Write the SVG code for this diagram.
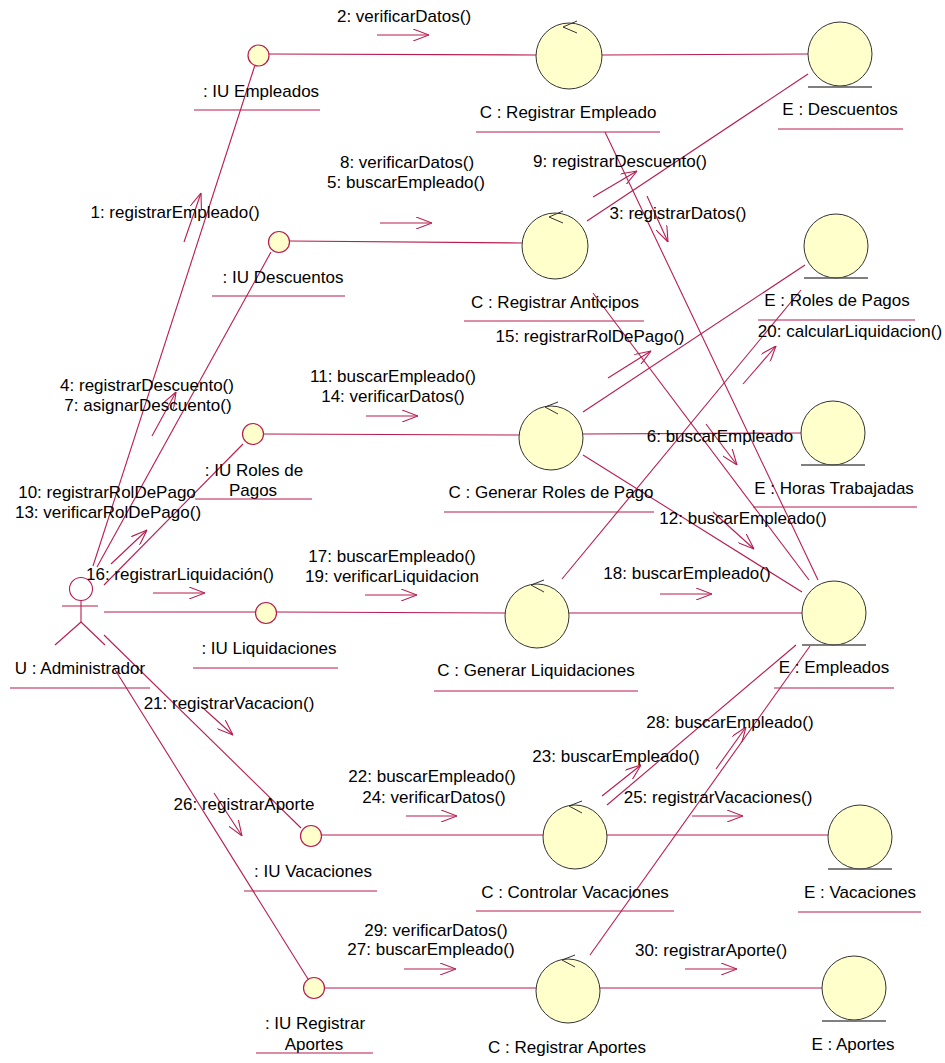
<svg xmlns="http://www.w3.org/2000/svg" width="945" height="1063" viewBox="0 0 945 1063">
  <defs>
    <style>
      text { font-family: "Liberation Sans", Arial, sans-serif; font-size: 17px; fill: #000; text-anchor: middle; }
      .ln { stroke: #B81C4E; stroke-width: 1.1; fill: none; }
      .ul { stroke: #B81C4E; stroke-width: 1.2; }
      .msg { stroke: #B81C4E; stroke-width: 1.1; fill: none; marker-end: url(#open); }
      .ui { fill: #FFFFCC; stroke: #B81C4E; stroke-width: 1.2; }
      .ctl { fill: #FFFFCC; stroke: #333; stroke-width: 1; }
      .ent { fill: #FFFFCC; stroke: #333; stroke-width: 1; }
      .bar { stroke: #555; stroke-width: 1.4; }
      .tip { stroke: #333; stroke-width: 1; fill: none; }
      .actor { stroke: #B81C4E; stroke-width: 1.1; fill: none; }
    </style>
    <marker id="open" viewBox="0 0 16 12" refX="16" refY="6" markerWidth="16" markerHeight="12" markerUnits="userSpaceOnUse" orient="auto">
      <path d="M0,0 L16,6 L0,12" fill="none" stroke="#B81C4E" stroke-width="1.1"/>
    </marker>
  </defs>
  <rect width="945" height="1063" fill="#fff"/>

  <!-- links between objects -->
  <g id="connectors">
    <!-- actor links -->
    <line class="ln" x1="93" y1="566" x2="255" y2="65"/>
    <line class="ln" x1="97" y1="567" x2="271" y2="252"/>
    <line class="ln" x1="104" y1="585" x2="243" y2="444"/>
    <line class="ln" x1="104" y1="612" x2="255" y2="612"/>
    <line class="ln" x1="104" y1="635" x2="301" y2="828"/>
    <line class="ln" x1="114" y1="668" x2="308" y2="979"/>
    <!-- boundary to control -->
    <line class="ln" x1="269" y1="54" x2="536" y2="55"/>
    <line class="ln" x1="290" y1="241" x2="522" y2="243"/>
    <line class="ln" x1="264" y1="434" x2="519" y2="435"/>
    <line class="ln" x1="277" y1="612" x2="505" y2="613"/>
    <line class="ln" x1="322" y1="835" x2="543" y2="835"/>
    <line class="ln" x1="325" y1="988" x2="536" y2="988"/>
    <!-- control to entity -->
    <line class="ln" x1="602" y1="55" x2="808" y2="54"/>
    <line class="ln" x1="587" y1="221" x2="808" y2="74"/>
    <line class="ln" x1="605" y1="132" x2="818" y2="580"/>
    <line class="ln" x1="593" y1="293" x2="809" y2="580"/>
    <line class="ln" x1="583" y1="412" x2="805" y2="265"/>
    <line class="ln" x1="583" y1="434" x2="801" y2="433"/>
    <line class="ln" x1="583" y1="455" x2="802" y2="592"/>
    <line class="ln" x1="562" y1="579" x2="801" y2="290"/>
    <line class="ln" x1="569" y1="613" x2="802" y2="613"/>
    <line class="ln" x1="607" y1="805" x2="796" y2="645"/>
    <line class="ln" x1="590" y1="955" x2="810" y2="646"/>
    <line class="ln" x1="607" y1="835" x2="828" y2="835"/>
    <line class="ln" x1="600" y1="988" x2="822" y2="988"/>
  </g>

  <!-- message arrows -->
  <g id="messages">
    <line class="msg" x1="377" y1="35" x2="429" y2="35"/>
    <line class="msg" x1="184" y1="242" x2="201" y2="193"/>
    <line class="msg" x1="380" y1="223" x2="432" y2="223"/>
    <line class="msg" x1="593" y1="197" x2="637" y2="171"/>
    <line class="msg" x1="647" y1="196" x2="668" y2="242"/>
    <line class="msg" x1="152" y1="436" x2="176" y2="392"/>
    <line class="msg" x1="111" y1="564" x2="147" y2="530"/>
    <line class="msg" x1="366" y1="416" x2="418" y2="416"/>
    <line class="msg" x1="608" y1="378" x2="651" y2="351"/>
    <line class="msg" x1="706" y1="424" x2="737" y2="465"/>
    <line class="msg" x1="743" y1="384" x2="776" y2="346"/>
    <line class="msg" x1="713" y1="512" x2="754" y2="549"/>
    <line class="msg" x1="153" y1="593" x2="205" y2="593"/>
    <line class="msg" x1="365" y1="595" x2="417" y2="595"/>
    <line class="msg" x1="660" y1="594" x2="712" y2="594"/>
    <line class="msg" x1="203" y1="708" x2="233" y2="735"/>
    <line class="msg" x1="214" y1="793" x2="242" y2="836"/>
    <line class="msg" x1="406" y1="816" x2="457" y2="816"/>
    <line class="msg" x1="602" y1="796" x2="641" y2="765"/>
    <line class="msg" x1="716" y1="769" x2="746" y2="727"/>
    <line class="msg" x1="692" y1="816" x2="743" y2="816"/>
    <line class="msg" x1="404" y1="969" x2="456" y2="969"/>
    <line class="msg" x1="685" y1="969" x2="737" y2="969"/>
  </g>

  <!-- message labels -->
  <g id="message-labels">
    <text x="404" y="22">2: verificarDatos()</text>
    <text x="175" y="218">1: registrarEmpleado()</text>
    <text x="407" y="168">8: verificarDatos()</text>
    <text x="406" y="188">5: buscarEmpleado()</text>
    <text x="620" y="167">9: registrarDescuento()</text>
    <text x="678" y="219">3: registrarDatos()</text>
    <text x="147" y="391">4: registrarDescuento()</text>
    <text x="148" y="411">7: asignarDescuento()</text>
    <text x="393" y="382">11: buscarEmpleado()</text>
    <text x="393" y="402">14: verificarDatos()</text>
    <text x="590" y="342">15: registrarRolDePago()</text>
    <text x="850" y="337">20: calcularLiquidacion()</text>
    <text x="720" y="442">6: buscarEmpleado</text>
    <text x="107" y="498">10: registrarRolDePago</text>
    <text x="108" y="518">13: verificarRolDePago()</text>
    <text x="743" y="524">12: buscarEmpleado()</text>
    <text x="392" y="562">17: buscarEmpleado()</text>
    <text x="392" y="582">19: verificarLiquidacion</text>
    <text x="180" y="580">16: registrarLiquidación()</text>
    <text x="687" y="579">18: buscarEmpleado()</text>
    <text x="229" y="709">21: registrarVacacion()</text>
    <text x="730" y="728">28: buscarEmpleado()</text>
    <text x="616" y="762">23: buscarEmpleado()</text>
    <text x="432" y="782">22: buscarEmpleado()</text>
    <text x="434" y="803">24: verificarDatos()</text>
    <text x="718" y="803">25: registrarVacaciones()</text>
    <text x="244" y="810">26: registrarAporte</text>
    <text x="436" y="936">29: verificarDatos()</text>
    <text x="431" y="955">27: buscarEmpleado()</text>
    <text x="711" y="956">30: registrarAporte()</text>
  </g>

  <!-- actor -->
  <g id="u-administrador">
    <circle class="actor" cx="81" cy="589" r="11.5"/>
    <line class="actor" x1="81" y1="600.5" x2="81" y2="622"/>
    <line class="actor" x1="62" y1="606" x2="98" y2="606"/>
    <line class="actor" x1="81" y1="622" x2="55" y2="645"/>
    <line class="actor" x1="81" y1="622" x2="105" y2="645"/>
    <text x="80" y="674">U : Administrador</text>
    <line class="ul" x1="10" y1="688" x2="150" y2="688"/>
  </g>

  <!-- boundary objects -->
  <g id="iu-empleados">
    <circle class="ui" cx="258.5" cy="55.5" r="10.5"/>
    <text x="261" y="97">: IU Empleados</text>
    <line class="ul" x1="194" y1="110" x2="320" y2="110"/>
  </g>
  <g id="iu-descuentos">
    <circle class="ui" cx="279" cy="242" r="10.5"/>
    <text x="283" y="283">: IU Descuentos</text>
    <line class="ul" x1="212" y1="296" x2="345" y2="296"/>
  </g>
  <g id="iu-roles-de-pagos">
    <circle class="ui" cx="253" cy="434" r="10.5"/>
    <text x="254" y="476">: IU Roles de</text>
    <text x="253" y="496">Pagos</text>
    <line class="ul" x1="195" y1="499" x2="312" y2="499"/>
  </g>
  <g id="iu-liquidaciones">
    <circle class="ui" cx="266" cy="613" r="10.5"/>
    <text x="269" y="654">: IU Liquidaciones</text>
    <line class="ul" x1="193" y1="668" x2="338" y2="668"/>
  </g>
  <g id="iu-vacaciones">
    <circle class="ui" cx="311" cy="836" r="10.5"/>
    <text x="313" y="877">: IU Vacaciones</text>
    <line class="ul" x1="244" y1="891" x2="377" y2="891"/>
  </g>
  <g id="iu-registrar-aportes">
    <circle class="ui" cx="314" cy="988" r="10.5"/>
    <text x="315" y="1029">: IU Registrar</text>
    <text x="314" y="1050">Aportes</text>
    <line class="ul" x1="256" y1="1053" x2="373" y2="1053"/>
  </g>

  <!-- control objects -->
  <g id="c-registrar-empleado">
    <circle class="ctl" cx="569" cy="56" r="33"/>
    <path class="tip" d="M577,21 L563,27 L577,33"/>
    <text x="568" y="118">C : Registrar Empleado</text>
    <line class="ul" x1="476" y1="132" x2="660" y2="132"/>
  </g>
  <g id="c-registrar-anticipos">
    <circle class="ctl" cx="555" cy="246" r="33"/>
    <path class="tip" d="M563,211 L549,217 L563,223"/>
    <text x="555" y="308">C : Registrar Anticipos</text>
    <line class="ul" x1="464" y1="321" x2="644" y2="321"/>
  </g>
  <g id="c-generar-roles-de-pago">
    <circle class="ctl" cx="551" cy="438" r="32"/>
    <path class="tip" d="M558,402 L545,407 L558,414"/>
    <text x="551" y="498">C : Generar Roles de Pago</text>
    <line class="ul" x1="444" y1="512" x2="654" y2="512"/>
  </g>
  <g id="c-generar-liquidaciones">
    <circle class="ctl" cx="537" cy="616" r="32"/>
    <path class="tip" d="M544,580 L531,585 L544,592"/>
    <text x="536" y="676">C : Generar Liquidaciones</text>
    <line class="ul" x1="434" y1="691" x2="638" y2="691"/>
  </g>
  <g id="c-controlar-vacaciones">
    <circle class="ctl" cx="575" cy="837" r="32"/>
    <path class="tip" d="M582,801 L569,806 L582,813"/>
    <text x="575" y="898">C : Controlar Vacaciones</text>
    <line class="ul" x1="476" y1="911" x2="674" y2="911"/>
  </g>
  <g id="c-registrar-aportes">
    <circle class="ctl" cx="568" cy="991" r="32"/>
    <path class="tip" d="M575,955 L562,960 L575,967"/>
    <text x="567" y="1053">C : Registrar Aportes</text>
  </g>

  <!-- entity objects -->
  <g id="e-descuentos">
    <circle class="ent" cx="840" cy="54" r="32"/>
    <line class="bar" x1="808" y1="87" x2="872" y2="87"/>
    <text x="840" y="115">E : Descuentos</text>
    <line class="ul" x1="778" y1="129" x2="903" y2="129"/>
  </g>
  <g id="e-roles-de-pagos">
    <circle class="ent" cx="836" cy="246" r="32"/>
    <line class="bar" x1="804" y1="278" x2="868" y2="278"/>
    <text x="837" y="306">E : Roles de Pagos</text>
    <line class="ul" x1="758" y1="320" x2="915" y2="320"/>
  </g>
  <g id="e-horas-trabajadas">
    <circle class="ent" cx="833" cy="433" r="32"/>
    <line class="bar" x1="801" y1="465" x2="865" y2="465"/>
    <text x="834" y="494">E : Horas Trabajadas</text>
    <line class="ul" x1="753" y1="507" x2="917" y2="507"/>
  </g>
  <g id="e-empleados">
    <circle class="ent" cx="834" cy="613" r="32"/>
    <line class="bar" x1="802" y1="645" x2="866" y2="645"/>
    <text x="834" y="673">E : Empleados</text>
    <line class="ul" x1="774" y1="688" x2="894" y2="688"/>
  </g>
  <g id="e-vacaciones">
    <circle class="ent" cx="860" cy="837" r="32"/>
    <line class="bar" x1="828" y1="869" x2="892" y2="869"/>
    <text x="860" y="898">E : Vacaciones</text>
    <line class="ul" x1="798" y1="912" x2="921" y2="912"/>
  </g>
  <g id="e-aportes">
    <circle class="ent" cx="854" cy="988" r="32"/>
    <line class="bar" x1="822" y1="1021" x2="886" y2="1021"/>
    <text x="853" y="1050">E : Aportes</text>
  </g>
</svg>
